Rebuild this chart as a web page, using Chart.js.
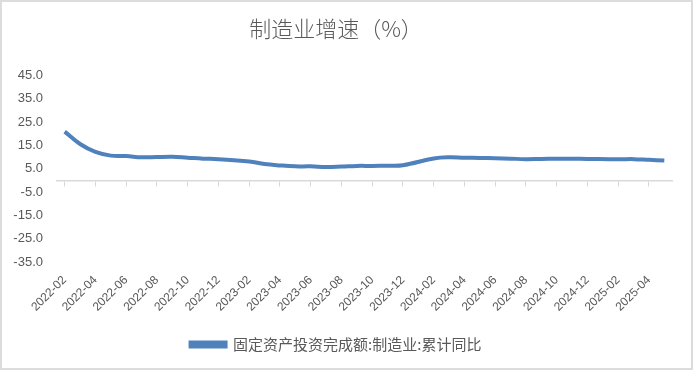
<!DOCTYPE html>
<html>
<head>
<meta charset="utf-8">
<script src="https://cdn.jsdelivr.net/npm/chart.js@4"></script>
<style>
  body { margin: 0; background: #fff; }
  canvas { display: block; outline: 2px solid #dcdcdc; outline-offset: -2px; }
</style>
</head>
<body>
<canvas id="chart" width="693" height="370"></canvas>
<script>
// months 2022-02 .. 2025-05 (January has no release, left empty)
const months = [
  "2022-02", "2022-03", "2022-04", "2022-05", "2022-06", "2022-07", "2022-08", "2022-09", "2022-10", "2022-11", "2022-12",
  "2023-01", "2023-02", "2023-03", "2023-04", "2023-05", "2023-06", "2023-07", "2023-08", "2023-09", "2023-10", "2023-11", "2023-12",
  "2024-01", "2024-02", "2024-03", "2024-04", "2024-05", "2024-06", "2024-07", "2024-08", "2024-09", "2024-10", "2024-11", "2024-12",
  "2025-01", "2025-02", "2025-03", "2025-04", "2025-05"
];
const manufacturing = [
  20.9, 15.6, 12.2, 10.6, 10.4, 9.9, 10.0, 10.1, 9.7, 9.3, 9.1,
  null, 8.1, 7.0, 6.4, 6.0, 6.0, 5.7, 5.9, 6.2, 6.2, 6.3, 6.5,
  null, 9.4, 9.9, 9.7, 9.6, 9.5, 9.3, 9.1, 9.2, 9.3, 9.3, 9.2,
  null, 9.0, 9.1, 8.8, 8.5
];
const yTicks = [-35, -25, -15, -5, 5, 15, 25, 35, 45];

const gray = "#595959";
const blue = "#4F81BD";

new Chart(document.getElementById("chart"), {
  type: "line",
  data: {
    labels: months,
    datasets: [{
      label: "固定资产投资完成额:制造业:累计同比",
      data: manufacturing,
      borderColor: blue,
      backgroundColor: blue,
      borderWidth: 4,
      pointRadius: 0,
      tension: 0.4,
      spanGaps: true,
      xAxisID: "x"
    }]
  },
  options: {
    responsive: false,
    animation: false,
    layout: { padding: { left: 0, right: 21, top: 0, bottom: 8 } },
    plugins: {
      title: {
        display: true,
        text: "制造业增速（%）",
        color: gray,
        font: { family: "'Noto Sans CJK SC'", size: 22, weight: 300 },
        padding: { top: 15, bottom: 34 }
      },
      legend: {
        position: "bottom",
        labels: {
          color: gray,
          font: { family: "'Noto Sans CJK SC'", size: 15 },
          boxWidth: 35,
          boxHeight: 4,
          padding: 9
        }
      },
      tooltip: { enabled: false }
    },
    scales: {
      x: {
        type: "category",
        position: "bottom",
        offset: true,
        grid: { display: false, drawTicks: false },
        border: { display: false },
        ticks: {
          autoSkip: false,
          minRotation: 45,
          maxRotation: 45,
          padding: 11,
          color: gray,
          font: { family: "'Liberation Sans'", size: 12 },
          callback: function (v, i) { return i % 2 === 0 ? this.getLabelForValue(v) : ""; }
        },
        afterFit: s => { s.height = 66; }
      },
      x0: {
        type: "category",
        position: { y: 0 },
        offset: true,
        ticks: { display: false },
        grid: {
          drawOnChartArea: false,
          drawTicks: true,
          tickLength: 5,
          lineWidth: 1,
          color: c => (c.index === undefined || c.index % 2 === 0) ? "#d9d9d9" : "rgba(0,0,0,0)"
        },
        border: { display: true, color: "#d9d9d9", width: 1.5 }
      },
      y: {
        min: -35,
        max: 45,
        afterBuildTicks: s => { s.ticks = yTicks.map(v => ({ value: v })); },
        grid: { display: false, drawTicks: false },
        border: { display: false },
        ticks: {
          padding: 14,
          color: gray,
          font: { family: "'Liberation Sans'", size: 13 },
          callback: v => v.toFixed(1)
        },
        afterFit: s => { s.width = 57; }
      }
    }
  }
});
</script>
</body>
</html>
